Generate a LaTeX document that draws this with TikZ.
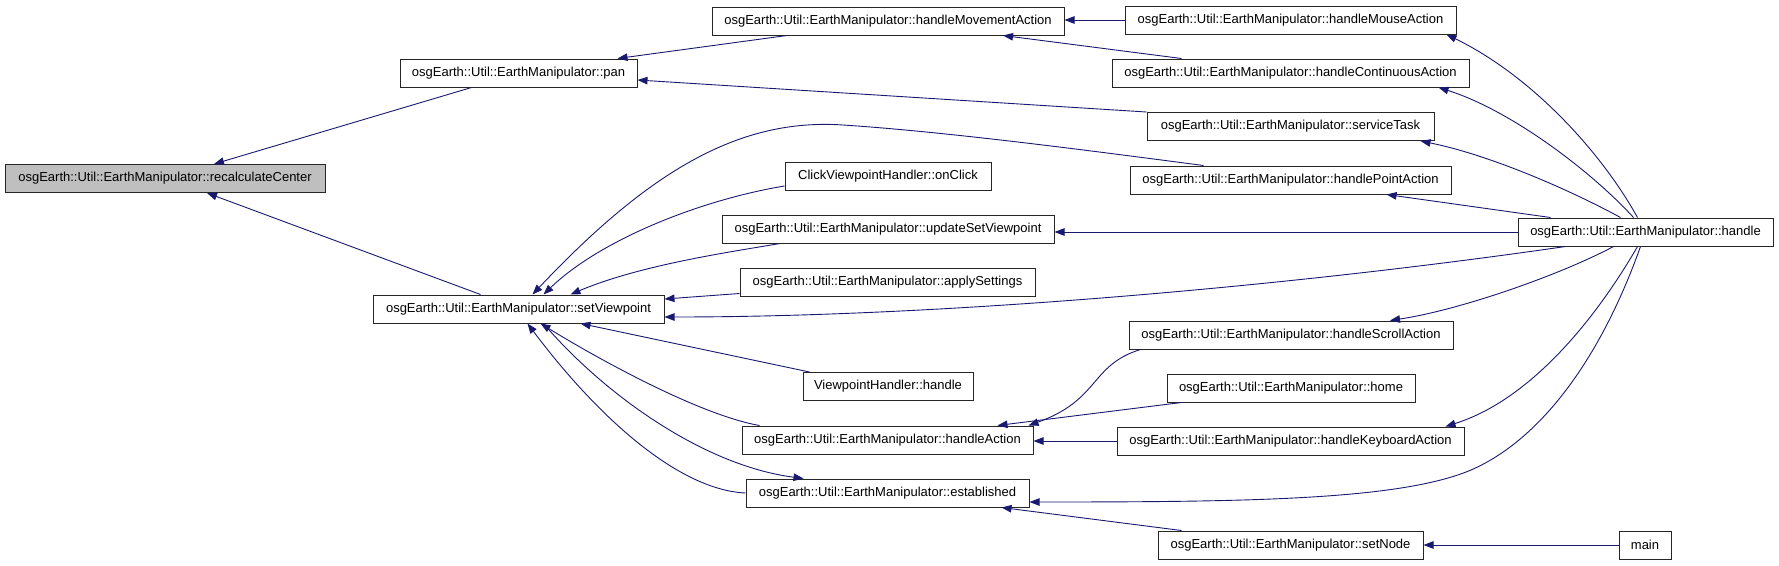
\documentclass[tikz,border=0pt]{standalone}
\usepackage{fontspec}
\setmainfont{Liberation Sans}
\usetikzlibrary{arrows.meta}
\definecolor{edgeblue}{HTML}{191970}
\definecolor{rootgray}{HTML}{BFBFBF}

\begin{document}
\begin{tikzpicture}[x=1pt, y=-1pt,
    box/.style={draw=black!85, line width=1pt, fill=white, minimum height=28pt, inner sep=0pt, font=\fontsize{13}{15}\selectfont},
    arr/.style={-{Triangle[length=10pt,width=7.5pt]}, draw=edgeblue, line width=0.9pt}
  ]
  \useasboundingbox (0,0) rectangle (1779,565);

  % Column 1 and 2
  \node[box, fill=rootgray, minimum width=320] (recalc) at (165,178.5) {osgEarth::Util::EarthManipulator::recalculateCenter};
  \node[box, minimum width=237] (pan) at (518.5,73) {osgEarth::Util::EarthManipulator::pan};
  \node[box, minimum width=291] (setVP) at (518.5,309) {osgEarth::Util::EarthManipulator::setViewpoint};

  % Column 3
  \node[box, minimum width=352] (hMove) at (888,21) {osgEarth::Util::EarthManipulator::handleMovementAction};
  \node[box, minimum width=206] (onClick) at (888,176) {ClickViewpointHandler::onClick};
  \node[box, minimum width=332] (updSV) at (888,229) {osgEarth::Util::EarthManipulator::updateSetViewpoint};
  \node[box, minimum width=295] (apply) at (887.5,282.5) {osgEarth::Util::EarthManipulator::applySettings};
  \node[box, minimum width=170] (vpHandle) at (888,386.5) {ViewpointHandler::handle};
  \node[box, minimum width=291] (hAction) at (887.5,440) {osgEarth::Util::EarthManipulator::handleAction};
  \node[box, minimum width=283] (established) at (887.5,493) {osgEarth::Util::EarthManipulator::established};

  % Column 4
  \node[box, minimum width=331] (hMouse) at (1290.5,20) {osgEarth::Util::EarthManipulator::handleMouseAction};
  \node[box, minimum width=357] (hCont) at (1290.5,73) {osgEarth::Util::EarthManipulator::handleContinuousAction};
  \node[box, minimum width=287] (service) at (1290.5,126.5) {osgEarth::Util::EarthManipulator::serviceTask};
  \node[box, minimum width=321] (hPoint) at (1290.5,180) {osgEarth::Util::EarthManipulator::handlePointAction};
  \node[box, minimum width=324] (hScroll) at (1291,335) {osgEarth::Util::EarthManipulator::handleScrollAction};
  \node[box, minimum width=248] (home) at (1291,388) {osgEarth::Util::EarthManipulator::home};
  \node[box, minimum width=347] (hKey) at (1290.5,441) {osgEarth::Util::EarthManipulator::handleKeyboardAction};
  \node[box, minimum width=265] (setNode) at (1290.5,545) {osgEarth::Util::EarthManipulator::setNode};

  % Column 5
  \node[box, minimum width=255] (handle) at (1645.5,232) {osgEarth::Util::EarthManipulator::handle};
  \node[box, minimum width=52] (main) at (1645,545) {main};

  % recalculateCenter
  \draw[arr] ([xshift=-47pt]pan.south) -- ([xshift=49pt]recalc.north);
  \draw[arr] ([xshift=-38pt]setVP.north) -- ([xshift=42pt]recalc.south);

  % pan and handleMovementAction
  \draw[arr] ([xshift=-101pt]hMove.south) -- ([xshift=99pt]pan.north);
  \draw[arr] (service.north west) -- ([yshift=-7pt]pan.east);
  \draw[arr] (hMouse.west) -- (hMouse.west -| hMove.east);
  \draw[arr] ([xshift=70pt]hCont.north west) -- ([xshift=115pt]hMove.south);

  % setViewpoint
  \draw[arr] ([xshift=-87pt]hPoint.north) .. controls (1100,152) and (950,132) .. (843,125)
    .. controls (740,118) and (650,170) .. ([xshift=14pt]setVP.north);
  \draw[arr] ([yshift=-10pt]onClick.west) .. controls (700,200) and (600,240) .. ([xshift=25pt]setVP.north);
  \draw[arr] ([xshift=-108pt]updSV.south) .. controls (730,252) and (640,265) .. ([xshift=52pt]setVP.north);
  \draw[arr] ([yshift=-11pt]apply.west) -- ([yshift=10pt]setVP.east);
  \draw[arr] ([xshift=-80pt]handle.south) .. controls (1300,285) and (950,317) .. ([yshift=-8pt]setVP.east);
  \draw[arr] ([xshift=7pt]vpHandle.north west) -- ([xshift=62pt]setVP.south);
  \draw[arr] ([xshift=18pt]hAction.north west) .. controls (700,415) and (600,360) .. ([xshift=22pt]setVP.south);
  \draw[arr] (established.west) .. controls (680,490) and (600,420) .. ([xshift=9pt]setVP.south);

  % established
  \draw[arr] ([xshift=25pt]setVP.south) .. controls (600,390) and (700,465) .. ([xshift=-84pt]established.north);
  \draw[arr] ([xshift=-5pt]handle.south) .. controls (1600,360) and (1540,440) .. (1471,470)
    .. controls (1400,500) and (1250,502) .. ([yshift=-9pt]established.east);
  \draw[arr] ([xshift=24pt]setNode.north west) -- ([xshift=114pt]established.south);
  \draw[arr] (main.west) -- (setNode.east);

  % handleAction
  \draw[arr] ([xshift=12pt]hScroll.south west) .. controls (1090,365) and (1100,400) .. ([xshift=-5pt]hAction.north east);
  \draw[arr] ([xshift=15pt]home.south west) -- ([xshift=110pt]hAction.north);
  \draw[arr] (hKey.west) -- (hKey.west -| hAction.east);

  % handle
  \draw[arr] ([xshift=-8pt]handle.north) .. controls (1600,150) and (1530,75) .. ([xshift=156pt]hMouse.south);
  \draw[arr] ([xshift=-12pt]handle.north) .. controls (1590,170) and (1510,110) .. ([xshift=148pt]hCont.south);
  \draw[arr] ([xshift=-25pt]handle.north) .. controls (1570,190) and (1490,155) .. ([xshift=130pt]service.south);
  \draw[arr] ([xshift=-95pt]handle.north) -- ([xshift=96pt]hPoint.south);
  \draw[arr] (handle.west) -- (handle.west -| updSV.east);
  \draw[arr] ([xshift=-32pt]handle.south) .. controls (1560,275) and (1460,310) .. ([xshift=99pt]hScroll.north);
  \draw[arr] ([xshift=-8pt]handle.south) .. controls (1595,320) and (1530,400) .. ([xshift=155pt]hKey.north);
\end{tikzpicture}
\end{document}
